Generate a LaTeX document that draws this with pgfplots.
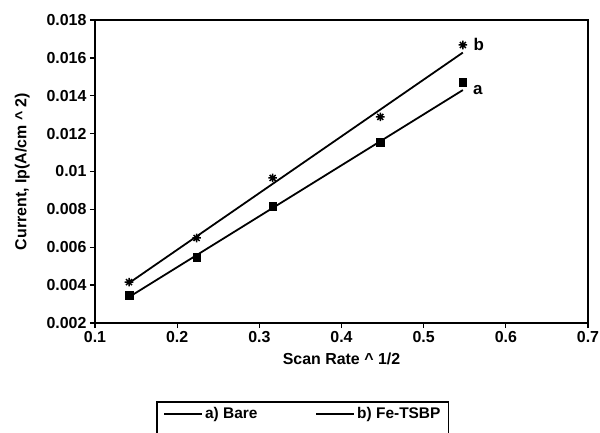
\documentclass[border=0pt]{standalone}
\usepackage{fontspec}
\setmainfont{Liberation Sans}
\usepackage{pgfplots}
\pgfplotsset{compat=1.18}
% eight-armed asterisk like the one in the reference
\pgfdeclareplotmark{ast8}{%
  \pgfpathmoveto{\pgfqpoint{-\pgfplotmarksize}{0pt}}\pgfpathlineto{\pgfqpoint{\pgfplotmarksize}{0pt}}%
  \pgfpathmoveto{\pgfqpoint{0pt}{-\pgfplotmarksize}}\pgfpathlineto{\pgfqpoint{0pt}{\pgfplotmarksize}}%
  \pgfpathmoveto{\pgfqpoint{-0.7\pgfplotmarksize}{-0.7\pgfplotmarksize}}\pgfpathlineto{\pgfqpoint{0.7\pgfplotmarksize}{0.7\pgfplotmarksize}}%
  \pgfpathmoveto{\pgfqpoint{-0.7\pgfplotmarksize}{0.7\pgfplotmarksize}}\pgfpathlineto{\pgfqpoint{0.7\pgfplotmarksize}{-0.7\pgfplotmarksize}}%
  \pgfusepathqstroke}

\begin{document}
\begin{tikzpicture}
\begin{axis}[
  at={(0,0)}, anchor=south west,
  width=493bp, height=303bp, scale only axis,
  xmin=0.1, xmax=0.7, ymin=0.002, ymax=0.018,
  xtick={0.1,0.2,0.3,0.4,0.5,0.6,0.7},
  ytick={0.002,0.004,0.006,0.008,0.01,0.012,0.014,0.016,0.018},
  scaled x ticks=false, scaled y ticks=false,
  x tick label style={/pgf/number format/fixed, /pgf/number format/precision=1},
  y tick label style={/pgf/number format/fixed, /pgf/number format/precision=3},
  /pgf/number format/assume math mode=true,
  tick label style={font=\fontsize{16}{18}\selectfont\bfseries},
  label style={font=\fontsize{16}{18}\selectfont\bfseries},
  xlabel={Scan Rate \^{} 1/2},
  ylabel={Current, Ip(A/cm \^{} 2)},
  xlabel style={yshift=-3bp},
  ylabel style={yshift=10bp},
  axis line style={line width=1.6pt},
  tick style={line width=1.3pt, black},
  tick align=outside, major tick length=5bp,
  xtick pos=bottom, ytick pos=left,
  legend style={draw=none, name=leg, at={(0.126,-0.261)}, anchor=north west,
    font=\fontsize{15.5}{17}\selectfont\bfseries, legend columns=2,
    /tikz/every even column/.append style={column sep=56bp},
    inner xsep=6bp, inner ysep=3bp},
  legend image code/.code={\draw[#1] (0bp,0bp) -- (38bp,0bp);},
]
% fitted lines
\addplot[black, line width=1.8pt] coordinates {(0.1414,0.00337) (0.5477,0.0143)};
\addlegendentry{a) Bare}
\addplot[black, line width=1.8pt] coordinates {(0.1414,0.00411) (0.5477,0.01628)};
\addlegendentry{b) Fe-TSBP\hspace{22bp}}
% measured points
\addplot[only marks, mark=square*, mark size=3.8pt, black, forget plot]
  coordinates {(0.1414,0.00348) (0.2236,0.00548) (0.3162,0.00818) (0.4472,0.01156) (0.5477,0.01473)};
\addplot[only marks, mark=ast8, mark size=4.3pt, black, line width=1.5pt, forget plot]
  coordinates {(0.1414,0.00416) (0.2236,0.00649) (0.3162,0.00966) (0.4472,0.01288) (0.5477,0.01668)};
\node[font=\fontsize{17}{19}\selectfont\bfseries] at (axis cs:0.567,0.01672) {b};
\node[font=\fontsize{17}{19}\selectfont\bfseries] at (axis cs:0.566,0.01430) {a};
\end{axis}
% legend frame runs past the bottom edge, as in the scan
\draw[line width=1.5pt] (leg.north west) rectangle ([yshift=-30bp]leg.south east);
\pgfresetboundingbox
\useasboundingbox (-95bp,-110bp) rectangle (505bp,323bp);
\end{tikzpicture}
\end{document}
